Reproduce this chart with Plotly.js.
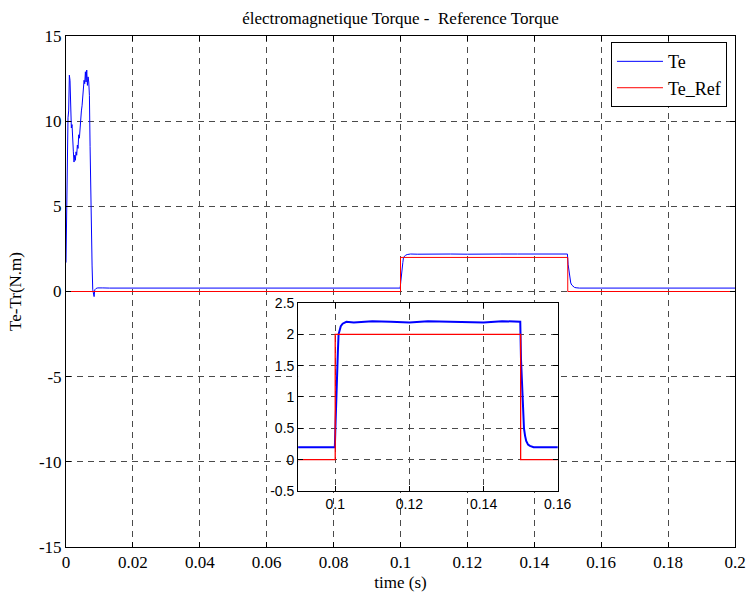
<!DOCTYPE html>
<html>
<head>
<meta charset="utf-8">
<script src="https://cdn.plot.ly/plotly-3.0.1.min.js"></script>
<style>body{margin:0;padding:0;background:#fff;}#chart{width:748px;height:596px;}</style>
</head>
<body>
<div id="chart"></div>
<script>
// Measured electromagnetic torque Te (time in s, torque in N.m)
const teTime = [
  0, 0.0002, 0.0004, 0.0006, 0.0008, 0.0010, 0.0012, 0.0014, 0.0016, 0.0018,
  0.0020, 0.0022, 0.0024, 0.0026, 0.0028, 0.0030, 0.0032, 0.0034, 0.0036, 0.0038,
  0.0040, 0.0042, 0.0044, 0.0046, 0.0048, 0.0050, 0.0052, 0.0054, 0.0056, 0.0058,
  0.0060, 0.0062, 0.0064, 0.0066, 0.0068, 0.0070, 0.0072, 0.0074, 0.0076, 0.0078,
  0.0080, 0.0082, 0.0084, 0.0086, 0.0090, 0.0095, 0.0100, 0.0110, 0.0130,
  0.02, 0.03, 0.04, 0.05, 0.06, 0.07, 0.08, 0.09, 0.0999,
  0.1001, 0.1003, 0.1005, 0.1007, 0.1009, 0.1012, 0.1015, 0.1020, 0.1025, 0.1030,
  0.105, 0.11, 0.115, 0.12, 0.125, 0.13, 0.135, 0.14, 0.145, 0.1499,
  0.1501, 0.1503, 0.1505, 0.1507, 0.1509, 0.1512, 0.1515, 0.1520, 0.1525, 0.1535,
  0.16, 0.17, 0.18, 0.19, 0.2
];
const teValue = [
  1.7, 4.6, 8.2, 10.2, 10.6, 12.7, 12.4, 10.8, 9.6, 9.8,
  8.5, 8.2, 7.6, 8.0, 7.7, 8.2, 8.0, 8.6, 8.4, 9.2,
  9.0, 9.8, 10.0, 10.6, 10.9, 11.5, 11.8, 12.4, 12.2, 12.9,
  12.3, 13.0, 12.1, 12.6, 12.3, 11.5, 8.5, 5.5, 3.5, 1.5,
  0.1, -0.1, -0.3, 0.1, 0.18, 0.21, 0.2, 0.21, 0.2,
  0.2, 0.21, 0.2, 0.19, 0.2, 0.21, 0.2, 0.2, 0.2,
  0.6, 1.1, 1.6, 1.7, 2.0, 2.08, 2.13, 2.17, 2.19, 2.2,
  2.19, 2.21, 2.2, 2.19, 2.21, 2.2, 2.2, 2.19, 2.21, 2.2,
  1.6, 1.25, 0.85, 0.7, 0.5, 0.38, 0.3, 0.24, 0.22, 0.2,
  0.2, 0.19, 0.2, 0.21, 0.2
];
// Reference torque Te_Ref
const refTime = [0, 0.1, 0.1, 0.15, 0.15, 0.2];
const refValue = [0, 0, 2, 2, 0, 0];

const seriesNames = ['Te', 'Te_Ref'];
const seriesColors = ['#0000ff', '#ff0000'];

// Tick labels (plain hyphen minus as in the original)
const mainYTicks = [-15, -10, -5, 0, 5, 10, 15];
const mainYLabels = ['-15', '-10', '-5', '0', '5', '10', '15'];
const insetYTicks = [-0.5, 0, 0.5, 1, 1.5, 2, 2.5];
const insetYLabels = ['-0.5', '0', '0.5', '1', '1.5', '2', '2.5'];

const serif = 'Liberation Serif, Times New Roman, serif';
const sans = 'Liberation Sans, Arial, sans-serif';
const serifSize = 17;
const sansSize = 14;
const gridStyle = {
  showgrid: true, gridcolor: '#4a4a4a', gridwidth: 1, griddash: '6px,5px',
  zeroline: false, showline: true, linecolor: '#000', linewidth: 1,
  mirror: 'ticks', ticks: 'inside', ticklen: 5, tickcolor: '#000'
};

const traces = [
  {x: teTime, y: teValue, name: seriesNames[0], type: 'scatter', mode: 'lines',
   line: {color: seriesColors[0], width: 1}, xaxis: 'x', yaxis: 'y'},
  {x: refTime, y: refValue, name: seriesNames[1], type: 'scatter', mode: 'lines',
   line: {color: seriesColors[1], width: 1}, xaxis: 'x', yaxis: 'y'},
  {x: teTime, y: teValue, name: seriesNames[0], type: 'scatter', mode: 'lines',
   line: {color: seriesColors[0], width: 2}, xaxis: 'x2', yaxis: 'y2', showlegend: false},
  {x: refTime, y: refValue, name: seriesNames[1], type: 'scatter', mode: 'lines',
   line: {color: seriesColors[1], width: 1.3}, xaxis: 'x2', yaxis: 'y2', showlegend: false}
];

const layout = {
  width: 748, height: 596,
  margin: {l: 66, r: 13, t: 36, b: 49},
  paper_bgcolor: '#fff', plot_bgcolor: '#fff',
  font: {family: serif, color: '#000'},
  title: {text: 'électromagnetique Torque -  Reference Torque',
          font: {family: serif, size: serifSize, color: '#000'},
          xref: 'paper', x: 0.5, xanchor: 'center',
          yref: 'container', y: 0.969, yanchor: 'middle'},
  xaxis: Object.assign({}, gridStyle, {
    range: [0, 0.2], tick0: 0, dtick: 0.02,
    tickfont: {family: serif, size: serifSize, color: '#000'},
    title: {text: 'time (s)', font: {family: serif, size: serifSize, color: '#000'}, standoff: 4}
  }),
  yaxis: Object.assign({}, gridStyle, {
    range: [-15, 15], tickmode: 'array', tickvals: mainYTicks, ticktext: mainYLabels,
    tickfont: {family: serif, size: serifSize, color: '#000'},
    title: {text: 'Te-Tr(N.m)', font: {family: serif, size: serifSize, color: '#000'}, standoff: 12}
  }),
  xaxis2: Object.assign({}, gridStyle, {
    anchor: 'y2', domain: [0.347, 0.735],
    range: [0.09, 0.16], tick0: 0.1, dtick: 0.02,
    tickfont: {family: sans, size: sansSize, color: '#000'}
  }),
  yaxis2: Object.assign({}, gridStyle, {
    anchor: 'x2', domain: [0.1096, 0.4775],
    range: [-0.5, 2.5], tickmode: 'array', tickvals: insetYTicks, ticktext: insetYLabels,
    tickfont: {family: sans, size: sansSize, color: '#000'}
  }),
  showlegend: true,
  legend: {x: 0.988, xanchor: 'right', y: 0.988, yanchor: 'top',
           bgcolor: '#fff', bordercolor: '#000', borderwidth: 1,
           font: {family: serif, size: 18, color: '#000'},
           tracegroupgap: 0, itemwidth: 46}
};

Plotly.newPlot('chart', traces, layout, {displayModeBar: false, staticPlot: true});
</script>
</body>
</html>
